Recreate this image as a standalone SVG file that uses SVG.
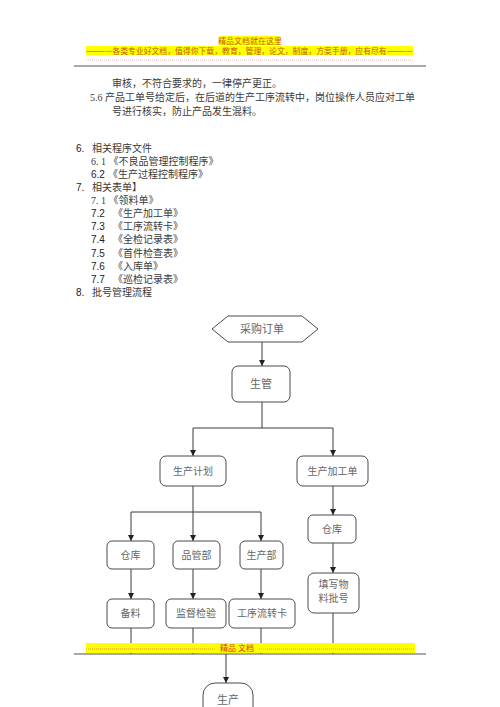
<svg xmlns="http://www.w3.org/2000/svg" width="500" height="707" viewBox="0 0 500 707">
<defs>
<style>
.cjk{font-family:"Noto Sans CJK SC","Noto Sans CJK JP",sans-serif;}
.body{font-family:"Liberation Serif","Noto Sans CJK SC",serif;font-size:10px;fill:#3a3a3a;}
.num{font-family:"Liberation Sans","Noto Sans CJK SC",sans-serif;font-size:10px;fill:#222;}
.hdr{font-family:"Noto Sans CJK SC",sans-serif;font-size:8px;fill:#c55a11;}
.box{fill:#fff;stroke:#4a4a4a;stroke-width:1;}
.lbl{font-family:"Noto Sans CJK SC",sans-serif;font-size:10px;fill:#666;text-anchor:middle;}
.con{stroke:#3a3a3a;stroke-width:1;fill:none;}
.arr{marker-end:url(#ah);}
</style>
<marker id="ah" viewBox="0 0 8 8" refX="8" refY="4" markerWidth="6" markerHeight="6" markerUnits="userSpaceOnUse" orient="auto">
<path d="M0,0 L8,4 L0,8 z" fill="#222"/>
</marker>
</defs>
<rect width="500" height="707" fill="#fff"/>

<!-- header -->
<g id="header">
<rect x="220" y="36" width="60" height="9" fill="#ffff00"/>
<text class="hdr" x="250" y="43.5" text-anchor="middle">精品文档就在这里</text>
<rect x="86" y="46" width="327" height="9" fill="#ffff00"/>
<text class="hdr" x="86" y="53.5" textLength="327" lengthAdjust="spacingAndGlyphs">————各类专业好文档，值得你下载，教育，管理，论文，制度，方案手册，应有尽有————</text>
<line x1="86" y1="60" x2="413" y2="60" stroke="#e88" stroke-width="0.6" stroke-dasharray="1,1"/>
<line x1="74" y1="66" x2="426" y2="66" stroke="#555" stroke-width="1.2"/>
</g>

<!-- body text -->
<g id="bodytext">
<text class="body" x="112" y="87">审核，不符合要求的，一律停产更正。</text>
<text class="body" x="90" y="101">5.6 产品工单号给定后，在后道的生产工序流转中，岗位操作人员应对工单</text>
<text class="body" x="112" y="115">号进行核实，防止产品发生混料。</text>

<text class="num" x="76" y="152">6.</text><text class="body" x="92" y="152">相关程序文件</text>
<text class="body" x="91" y="165">6. 1 《不良品管理控制程序》</text>
<text class="num" x="91" y="178">6.2</text><text class="body" x="108" y="178">《生产过程控制程序》</text>
<text class="num" x="76" y="191">7.</text><text class="body" x="92" y="191">相关表单】</text>
<text class="body" x="91" y="204">7. 1 《领料单》</text>
<text class="num" x="91" y="217">7.2</text><text class="body" x="113" y="217">《生产加工单》</text>
<text class="num" x="91" y="230">7.3</text><text class="body" x="113" y="230">《工序流转卡》</text>
<text class="num" x="91" y="243">7.4</text><text class="body" x="113" y="243">《全检记录表》</text>
<text class="num" x="91" y="257">7.5</text><text class="body" x="113" y="257">《首件检查表》</text>
<text class="num" x="91" y="270">7.6</text><text class="body" x="113" y="270">《入库单》</text>
<text class="num" x="91" y="283">7.7</text><text class="body" x="113" y="283">《巡检记录表》</text>
<text class="num" x="76" y="296">8.</text><text class="body" x="92" y="296">批号管理流程</text>
</g>

<!-- connectors -->
<g id="connectors">
<path class="con arr" d="M262,342 V366"/>
<path class="con" d="M262,402 V428 M193,428 H333"/>
<path class="con arr" d="M193,428 V456"/>
<path class="con arr" d="M333,428 V456"/>
<path class="con" d="M193,486 V512 M131,512 H261"/>
<path class="con arr" d="M131,512 V541"/>
<path class="con arr" d="M193,512 V541"/>
<path class="con arr" d="M261,512 V541"/>
<path class="con arr" d="M333,486 V515"/>
<path class="con arr" d="M131,569 V599"/>
<path class="con arr" d="M193,569 V599"/>
<path class="con arr" d="M261,569 V599"/>
<path class="con arr" d="M333,543 V573"/>
<path class="con" d="M131,628 V654 M193,628 V654 M261,628 V654 M333,613 V654"/>
<path class="con arr" d="M226,654 V683"/>
</g>

<!-- nodes -->
<g id="n_caigou">
<polygon class="box" points="212,329 228,316 302,316 318,329 302,342 228,342"/>
<text class="lbl" x="262" y="333" style="font-size:11px">采购订单</text>
</g>
<g id="n_shengguan">
<rect class="box" x="232" y="366" width="58" height="36" rx="6"/>
<text class="lbl" x="261" y="388" style="font-size:11px">生管</text>
</g>
<g id="n_jihua">
<rect class="box" x="160" y="456" width="66" height="30" rx="6"/>
<text class="lbl" x="193" y="474.5">生产计划</text>
</g>
<g id="n_jiagongdan">
<rect class="box" x="297" y="456" width="71" height="30" rx="6"/>
<text class="lbl" x="332.5" y="474.5">生产加工单</text>
</g>
<g id="n_cangku1">
<rect class="box" x="107" y="541" width="47" height="28" rx="5"/>
<text class="lbl" x="130.5" y="558.5">仓库</text>
</g>
<g id="n_pinguan">
<rect class="box" x="173" y="541" width="47" height="28" rx="5"/>
<text class="lbl" x="196.5" y="558.5">品管部</text>
</g>
<g id="n_shengchanbu">
<rect class="box" x="240" y="541" width="43" height="28" rx="5"/>
<text class="lbl" x="261.5" y="558.5">生产部</text>
</g>
<g id="n_beiliao">
<rect class="box" x="107" y="599" width="47" height="29" rx="5"/>
<text class="lbl" x="130.5" y="617">备料</text>
</g>
<g id="n_jiandu">
<rect class="box" x="166" y="599" width="60" height="29" rx="5"/>
<text class="lbl" x="196" y="617">监督检验</text>
</g>
<g id="n_liuzhuan">
<rect class="box" x="229" y="599" width="66" height="29" rx="5"/>
<text class="lbl" x="262" y="617">工序流转卡</text>
</g>
<g id="n_cangku2">
<rect class="box" x="308" y="515" width="48" height="28" rx="5"/>
<text class="lbl" x="332" y="532.5">仓库</text>
</g>
<g id="n_tianxie">
<rect class="box" x="308" y="573" width="51" height="40" rx="6"/>
<text class="lbl" x="333.5" y="588">填写物</text>
<text class="lbl" x="333.5" y="602">料批号</text>
</g>

<!-- footer -->
<g id="footer">
<rect x="86" y="643" width="329" height="10" fill="#ffff00"/>
<line x1="86" y1="649" x2="215" y2="649" stroke="#e06060" stroke-width="0.6" stroke-dasharray="1,1"/>
<line x1="259" y1="649" x2="415" y2="649" stroke="#e06060" stroke-width="0.6" stroke-dasharray="1,1"/>
<text class="hdr" x="237" y="651" text-anchor="middle" style="fill:#e03030">精品   文档</text>
<line x1="74" y1="654" x2="426" y2="654" stroke="#555" stroke-width="1.2"/>
</g>

<g id="n_shengchan">
<rect class="box" x="203" y="683" width="50" height="50" rx="12"/>
<text class="lbl" x="228" y="704" style="font-size:11px">生产</text>
</g>
</svg>
